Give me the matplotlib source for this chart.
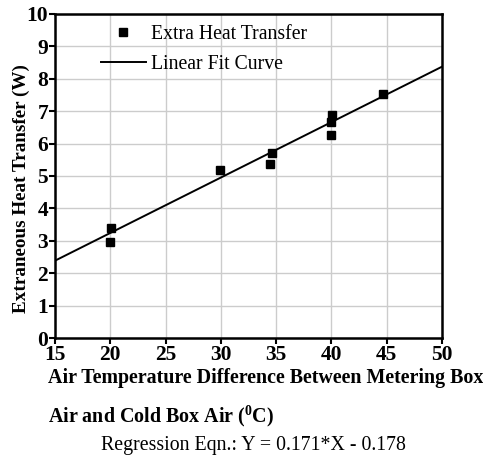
import matplotlib
matplotlib.use("Agg")
import matplotlib.pyplot as plt
import numpy as np

plt.rcParams['font.family'] = ['Liberation Serif', 'DejaVu Serif']
plt.rcParams['mathtext.fontset'] = 'custom'
plt.rcParams['mathtext.rm'] = 'Liberation Serif'
plt.rcParams['mathtext.bf'] = 'Liberation Serif:bold'

# measured points
temp_diff = [19.97, 20.1, 29.9, 34.4, 34.6, 39.95, 39.95, 40.07, 44.7]
extra_heat = [2.97, 3.40, 5.19, 5.36, 5.71, 6.27, 6.68, 6.88, 7.53]

# regression line Y = 0.171*X - 0.178
slope = 0.171
intercept = -0.178
fit_x = [15, 50]

x_ticks = [15, 20, 25, 30, 35, 40, 45, 50]
y_ticks = [0, 1, 2, 3, 4, 5, 6, 7, 8, 9, 10]

fig = plt.figure(figsize=(4.83, 4.59), dpi=100)
ax = fig.add_axes([0.114, 0.2636, 0.801, 0.706])

ax.grid(True, color='#cccccc', linewidth=1.0)
ax.set_axisbelow(True)

ax.plot(temp_diff, extra_heat, 's', color='black', markersize=6,
        label='Extra Heat Transfer', zorder=3)
fx = np.array(fit_x)
ax.plot(fx, slope * fx + intercept, '-', color='black', linewidth=1.4,
        label='Linear Fit Curve', zorder=2)

ax.set_xlim(15, 50)
ax.set_ylim(0, 10)
ax.set_xticks(x_ticks)
ax.set_yticks(y_ticks)
for lbl in ax.get_xticklabels() + ax.get_yticklabels():
    lbl.set_fontweight('bold')
    lbl.set_fontsize(15.5)
ax.tick_params(direction='out', length=4, width=1.5, pad=1)
for s in ax.spines.values():
    s.set_linewidth(1.8)

fig.text(0.045, 0.59, 'Extraneous Heat Transfer (W)', fontsize=13.8,
         fontweight='bold', rotation=90, va='center', ha='center')

leg = ax.legend(loc='upper left', bbox_to_anchor=(0.082, 1.01), frameon=False,
                fontsize=14.2, handlelength=2.3, handletextpad=0.25, labelspacing=0.6,
                borderaxespad=0.3)

fig.text(0.099, 0.176, 'Air Temperature Difference Between Metering Box',
         fontsize=14.4, fontweight='bold', va='center', ha='left')
fig.text(0.099, 0.093, r'Air and Cold Box Air ($^{\mathbf{0}}$C)',
         fontsize=14.4, fontweight='bold', va='center', ha='left')
fig.text(0.524, 0.0305, 'Regression Eqn.: Y = 0.171*X - 0.178',
         fontsize=14.3, va='center', ha='center')

fig.savefig('out.png', dpi=100)
